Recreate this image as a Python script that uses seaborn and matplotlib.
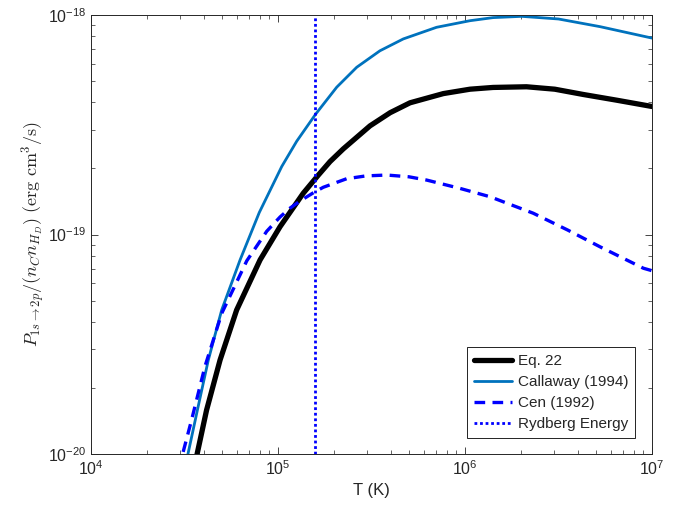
import numpy as np
import pandas as pd
import seaborn as sns
import matplotlib
matplotlib.use("Agg")
import matplotlib.pyplot as plt
from matplotlib.ticker import LogLocator, NullFormatter

# values (T in K, rate in erg cm^3/s)
T_eq22 = [3.55e4, 3.70e4, 4.15e4, 4.90e4, 6.01e4, 8.02e4, 1.026e5, 1.365e5, 1.644e5,
          1.897e5, 2.234e5, 3.105e5, 3.98e5, 5.08e5, 7.66e5, 1.064e6, 1.413e6, 2.133e6,
          3.02e6, 4.285e6, 6.457e6, 9.727e6, 1.0e7]
P_eq22 = [8.51e-21, 1.007e-20, 1.585e-20, 2.68e-20, 4.53e-20, 7.66e-20, 1.086e-19,
          1.542e-19, 1.866e-19, 2.148e-19, 2.455e-19, 3.126e-19, 3.589e-19, 3.981e-19,
          4.385e-19, 4.592e-19, 4.677e-19, 4.710e-19, 4.592e-19, 4.345e-19, 4.093e-19,
          3.846e-19, 3.83e-19]

T_callaway = [3.16e4, 3.30e4, 3.75e4, 4.24e4, 5.00e4, 6.27e4, 7.94e4, 1.047e5, 1.259e5,
              1.592e5, 2.061e5, 2.636e5, 3.508e5, 4.677e5, 7.047e5, 1.064e6, 1.413e6,
              2.009e6, 3.162e6, 5.272e6, 9.727e6, 1.0e7]
P_callaway = [8.51e-21, 1.0e-20, 1.66e-20, 2.68e-20, 4.53e-20, 7.66e-20, 1.259e-19,
              2.04e-19, 2.66e-19, 3.54e-19, 4.69e-19, 5.78e-19, 6.87e-19, 7.78e-19,
              8.79e-19, 9.42e-19, 9.73e-19, 9.86e-19, 9.59e-19, 8.85e-19, 7.89e-19, 7.85e-19]

T_cen = [2.95e4, 3.09e4, 3.45e4, 4.07e4, 5.00e4, 6.81e4, 8.71e4, 1.026e5, 1.159e5,
         1.309e5, 1.545e5, 1.746e5, 2.328e5, 2.951e5, 3.811e5, 5.012e5, 6.237e5,
         9.397e5, 1.361e6, 2.317e6, 3.548e6, 5.272e6, 8.995e6, 1.0e7]
P_cen = [8.51e-21, 1.0e-20, 1.429e-20, 2.51e-20, 4.37e-20, 7.59e-20, 1.035e-19,
         1.202e-19, 1.318e-19, 1.419e-19, 1.549e-19, 1.641e-19, 1.795e-19, 1.849e-19,
         1.866e-19, 1.832e-19, 1.770e-19, 1.622e-19, 1.486e-19, 1.250e-19, 1.047e-19,
         8.79e-20, 7.02e-20, 6.84e-20]

T_rydberg = 157800.0

labels = ["Eq. 22", "Callaway (1994)", "Cen (1992)", "Rydberg Energy"]

sns.set_style("ticks")
plt.rcParams["font.family"] = ["Liberation Sans", "DejaVu Sans"]
plt.rcParams["xtick.direction"] = "in"
plt.rcParams["ytick.direction"] = "in"

fig = plt.figure(figsize=(6.86, 5.17), dpi=100)
ax = fig.add_axes([91 / 686, 63 / 517, 561 / 686, 439 / 517])

df_eq = pd.DataFrame({"T": T_eq22, "P": P_eq22})
df_ca = pd.DataFrame({"T": T_callaway, "P": P_callaway})
df_ce = pd.DataFrame({"T": T_cen, "P": P_cen})

sns.lineplot(data=df_eq, x="T", y="P", ax=ax, color="black", lw=3.8, label=labels[0])
sns.lineplot(data=df_ca, x="T", y="P", ax=ax, color=(0, 0.447, 0.741), lw=2.0, label=labels[1])
sns.lineplot(data=df_ce, x="T", y="P", ax=ax, color=(0, 0, 1), lw=2.4, label=labels[2])
ax.lines[-1].set_dashes((3.2, 2.2))
ax.axvline(T_rydberg, color=(0, 0, 1), lw=2.0, ls=(0, (1, 1)), label=labels[3])

ax.set_xscale("log")
ax.set_yscale("log")
ax.set_xlim(1e4, 1e7)
ax.set_ylim(1e-20, 1e-18)

ax.xaxis.set_minor_locator(LogLocator(base=10, subs=np.arange(2, 10)))
ax.yaxis.set_minor_locator(LogLocator(base=10, subs=np.arange(2, 10)))
ax.xaxis.set_minor_formatter(NullFormatter())
ax.yaxis.set_minor_formatter(NullFormatter())
ax.tick_params(which="both", top=True, right=True, labelsize=11.5, color="#262626")
ax.tick_params(which="major", length=5, width=0.6)
ax.tick_params(which="minor", length=3, width=0.5)
for s in ax.spines.values():
    s.set_linewidth(0.7)
    s.set_color("#262626")

ax.set_xlabel("T (K)", fontsize=12)
ax.set_ylabel(r"$P_{1s\rightarrow 2p}/(n_C n_{H_D})\ \mathrm{(erg\ cm^3/s)}$",
              fontsize=13, math_fontfamily="cm", labelpad=1)

leg = ax.legend(loc="lower right", bbox_to_anchor=(0.9697, 0.037), borderaxespad=0,
                fancybox=False, edgecolor="black", framealpha=1, fontsize=11,
                handlelength=2.5, borderpad=0.45, labelspacing=0.45, handletextpad=0.35)
leg.get_frame().set_linewidth(0.6)

fig.savefig("out.png", dpi=100)
